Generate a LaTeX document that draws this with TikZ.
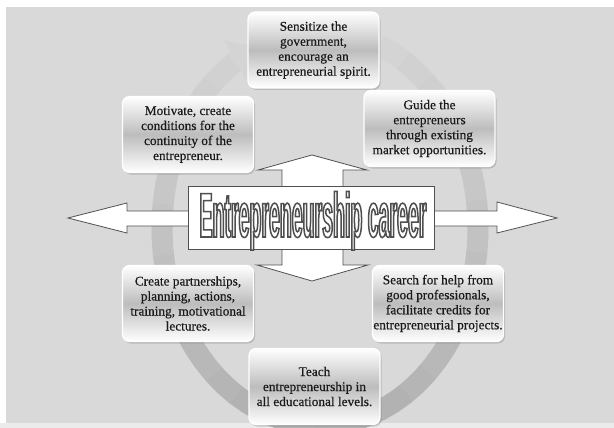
\documentclass[tikz,border=0pt]{standalone}
\usepackage{fontspec}
\setmainfont{Liberation Serif}
\newfontfamily\cardfont{Liberation Serif}[FakeBold=0.5]
\newfontfamily\bannerfont{Liberation Sans Bold}[FakeStretch=0.31]
\newcommand\outlined[1]{%
  \special{pdf:literal direct 0.31 0.31 0.31 RG 1.5 w 2 Tr}#1%
  \special{pdf:literal direct 0 Tr}}
\usetikzlibrary{shadows, arrows.meta}
\definecolor{fond}{HTML}{D9D9D9}
\definecolor{trait}{HTML}{505050}
\definecolor{encre}{HTML}{1A1A1A}
\tikzset{
  card/.style = {
    rounded corners=7pt, draw=white, line width=1.2pt,
    top color=white, bottom color=white, middle color=black!26,
    drop shadow={opacity=.35, shadow xshift=1.5pt, shadow yshift=-2pt},
    minimum width=131pt, minimum height=76pt, inner sep=0pt,
    align=center, text=encre, font=\cardfont\fontsize{13.3}{15}\selectfont
  },
  cross/.style = {
    fill=white, draw=trait, line width=.8pt, line join=miter
  },
  ring/.style = {
    line width=21pt
  }
}

\begin{document}
\begin{tikzpicture}[x=1pt, y=-1pt]
    \useasboundingbox (0,0) rectangle (614,428);
    % le fond
    \fill[white] (0,0) rectangle (614,428);
    \fill[black!8] (0,423) rectangle (614,428);
    \fill[fond] (6,7) rectangle (614,423);
    % les centres
    \path
      (320,228) coordinate (ringc)
      (313.5,50) coordinate (pt top)
      (188,134.5) coordinate (pt ul)
      (429.5,128.5) coordinate (pt ur)
      (188,303.5) coordinate (pt ll)
      (438,303.5) coordinate (pt lr)
      (314.5,386.5) coordinate (pt bot)
    ;
    % l'anneau
    \foreach \a in {292,297,...,597} {
      \pgfmathtruncatemacro\tone{24+7*sin(\a+3)}
      \draw[ring, black!\tone] (ringc) ++(\a:158 and 197)
        arc[start angle=\a, end angle=\a+6, x radius=158, y radius=197];
    }
    \draw[ring, black!17, -{Triangle[width=44pt, length=24pt]}]
      (ringc) ++(598:158 and 197)
      arc[start angle=598, end angle=606, x radius=158, y radius=197];
    % la croix
    \path[cross]
      (68,218) -- (127,203) -- (127,211) -- (497,211) -- (497,202)
      -- (557,218) -- (497,233) -- (497,226) -- (127,226) -- (127,233)
      -- cycle;
    \path[cross]
      (312,155) -- (367,170) -- (343,170) -- (343,265) -- (368,265)
      -- (312,281) -- (257,265) -- (282,265) -- (282,170) -- (258,170)
      -- cycle;
    \node[cross, minimum width=246pt, minimum height=63pt] (banner) at (311,217.5) {};
    \node[text=white, font=\bannerfont\fontsize{63}{63}\selectfont, inner sep=0pt, anchor=base]
      (title) at (313,237) {\outlined{Entrepreneurship career}};
    % les boites
    \node[card] (sensitize) at (pt top)
      {Sensitize the\\government,\\encourage an\\entrepreneurial spirit.};
    \node[card] (motivate) at (pt ul)
      {Motivate, create\\conditions for the\\continuity of the\\entrepreneur.};
    \node[card] (guide) at (pt ur)
      {Guide the\\entrepreneurs\\through existing\\market opportunities.};
    \node[card] (partners) at (pt ll)
      {Create partnerships,\\planning, actions,\\training, motivational\\lectures.};
    \node[card] (search) at (pt lr)
      {Search for help from\\good professionals,\\facilitate credits for\\entrepreneurial projects.};
    \node[card] (teach) at (pt bot)
      {Teach\\entrepreneurship in\\all educational levels.};
\end{tikzpicture}
\end{document}
